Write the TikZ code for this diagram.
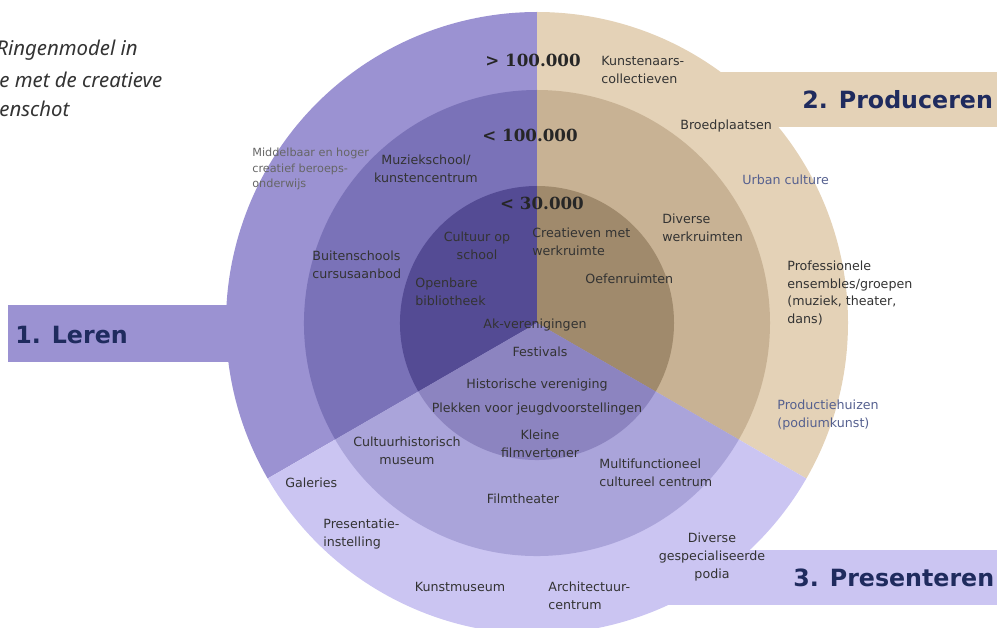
\documentclass[tikz,border=0pt]{standalone}
\usepackage{fontspec}
\setmainfont{DejaVu Sans}
\newfontfamily\numfont{DejaVu Serif}
\newfontfamily\capfont{Noto Sans}
\usepackage{xcolor}
\definecolor{lerena}{HTML}{9B92D2}
\definecolor{lerenb}{HTML}{7A72B8}
\definecolor{lerenc}{HTML}{544B94}
\definecolor{proda}{HTML}{E4D2B7}
\definecolor{prodb}{HTML}{C8B294}
\definecolor{prodc}{HTML}{A08A6C}
\definecolor{presa}{HTML}{CBC5F2}
\definecolor{presb}{HTML}{AAA4DA}
\definecolor{presc}{HTML}{8C84C0}
\definecolor{txtgray}{HTML}{333333}
\definecolor{lightgray}{HTML}{666666}
\definecolor{slate}{HTML}{55608F}
\definecolor{headblue}{HTML}{1F2B5E}
\tikzset{
    lbl/.style={font=\fontsize{7.2}{10}\selectfont, text=txtgray, inner sep=0pt, align=center},
    lblw/.style={lbl, anchor=west, align=left},
    num/.style={font=\numfont\bfseries\fontsize{9.5}{11}\selectfont, text=black!85, inner sep=0pt},
    head/.style={font=\bfseries\fontsize{13.5}{15}\selectfont, text=headblue, inner sep=0pt, anchor=west},
    capt/.style={font=\capfont\itshape\fontsize{11.6}{14}\selectfont, text=txtgray, anchor=west, inner sep=0pt},
}

\begin{document}
\begin{tikzpicture}[x=0.02cm,y=-0.02cm]
		\useasboundingbox (0,0) rectangle (997,628);
		\fill[lerena] (8,305) rectangle (400,362);
		\fill[proda] (537,72) rectangle (997,127);
		\fill[presa] (537,550) rectangle (997,605);
		\foreach \r/\s in {311/a,233/b,137/c} \foreach \a/\b/\c in {150/270/leren,-90/30/prod,30/150/pres} \fill[\c\s] (537,323) -- ++(\a:\r) arc[start angle=\a, end angle=\b, radius=\r] -- cycle;
		\node[capt] (cap1) at (-4,50) {Ringenmodel in};
		\node[capt] (cap2) at (-1,80) {e met de creatieve};
		\node[capt] (cap3) at (-1,109) {enschot};
		\node[head] (leren) at (15,335) {1. Leren};
		\node[head] (produceren) at (802,100) {2. Produceren};
		\node[head] (presenteren) at (793,578) {3. Presenteren};
		\node[num] (n100a) at (533,60) {> 100.000};
		\node[num] (n100b) at (530,135) {< 100.000};
		\node[num] (n30) at (542,203) {< 30.000};
		\node[lblw] (kunstcoll) at (601,70) {Kunstenaars-\\collectieven};
		\node[lblw] (broed) at (680,126) {Broedplaatsen};
		\node[lblw, text=slate] (urban) at (742,180) {Urban culture};
		\node[lblw] (divwerk) at (662,228) {Diverse\\werkruimten};
		\node[lblw] (creat) at (532,242) {Creatieven met\\werkruimte};
		\node[lblw] (oefen) at (585,279) {Oefenruimten};
		\node[lblw] (profes) at (787,293) {Professionele\\ensembles/groepen\\(muziek, theater,\\dans)};
		\node[lblw, text=slate] (prodhuis) at (777,415) {Productiehuizen\\(podiumkunst)};
		\node[lblw, text=lightgray, font=\fontsize{6.4}{8.8}\selectfont] (middel) at (252,169) {Middelbaar en hoger\\creatief beroeps-\\onderwijs};
		\node[lbl] (muziek) at (426,169) {Muziekschool/\\kunstencentrum};
		\node[lblw] (buiten) at (312,265) {Buitenschools\\cursusaanbod};
		\node[lbl] (cultschool) at (477,246) {Cultuur op\\school};
		\node[lblw] (openb) at (415,292) {Openbare\\bibliotheek};
		\node[lbl] (akver) at (535,325) {Ak-verenigingen};
		\node[lbl] (fest) at (540,352) {Festivals};
		\node[lbl] (hist) at (537,385) {Historische vereniging};
		\node[lbl] (plek) at (537,409) {Plekken voor jeugdvoorstellingen};
		\node[lbl] (kleine) at (540,444) {Kleine\\filmvertoner};
		\node[lbl] (cultmus) at (407,451) {Cultuurhistorisch\\museum};
		\node[lblw] (galer) at (285,483) {Galeries};
		\node[lblw] (multif) at (599,473) {Multifunctioneel\\cultureel centrum};
		\node[lbl] (filmth) at (523,499) {Filmtheater};
		\node[lblw] (presinst) at (323,534) {Presentatie-\\instelling};
		\node[lbl] (divpod) at (712,557) {Diverse\\gespecialiseerde\\podia};
		\node[lbl] (kunstmus) at (460,587) {Kunstmuseum};
		\node[lblw] (archit) at (548,596) {Architectuur-\\centrum};
	\end{tikzpicture}
\end{document}
